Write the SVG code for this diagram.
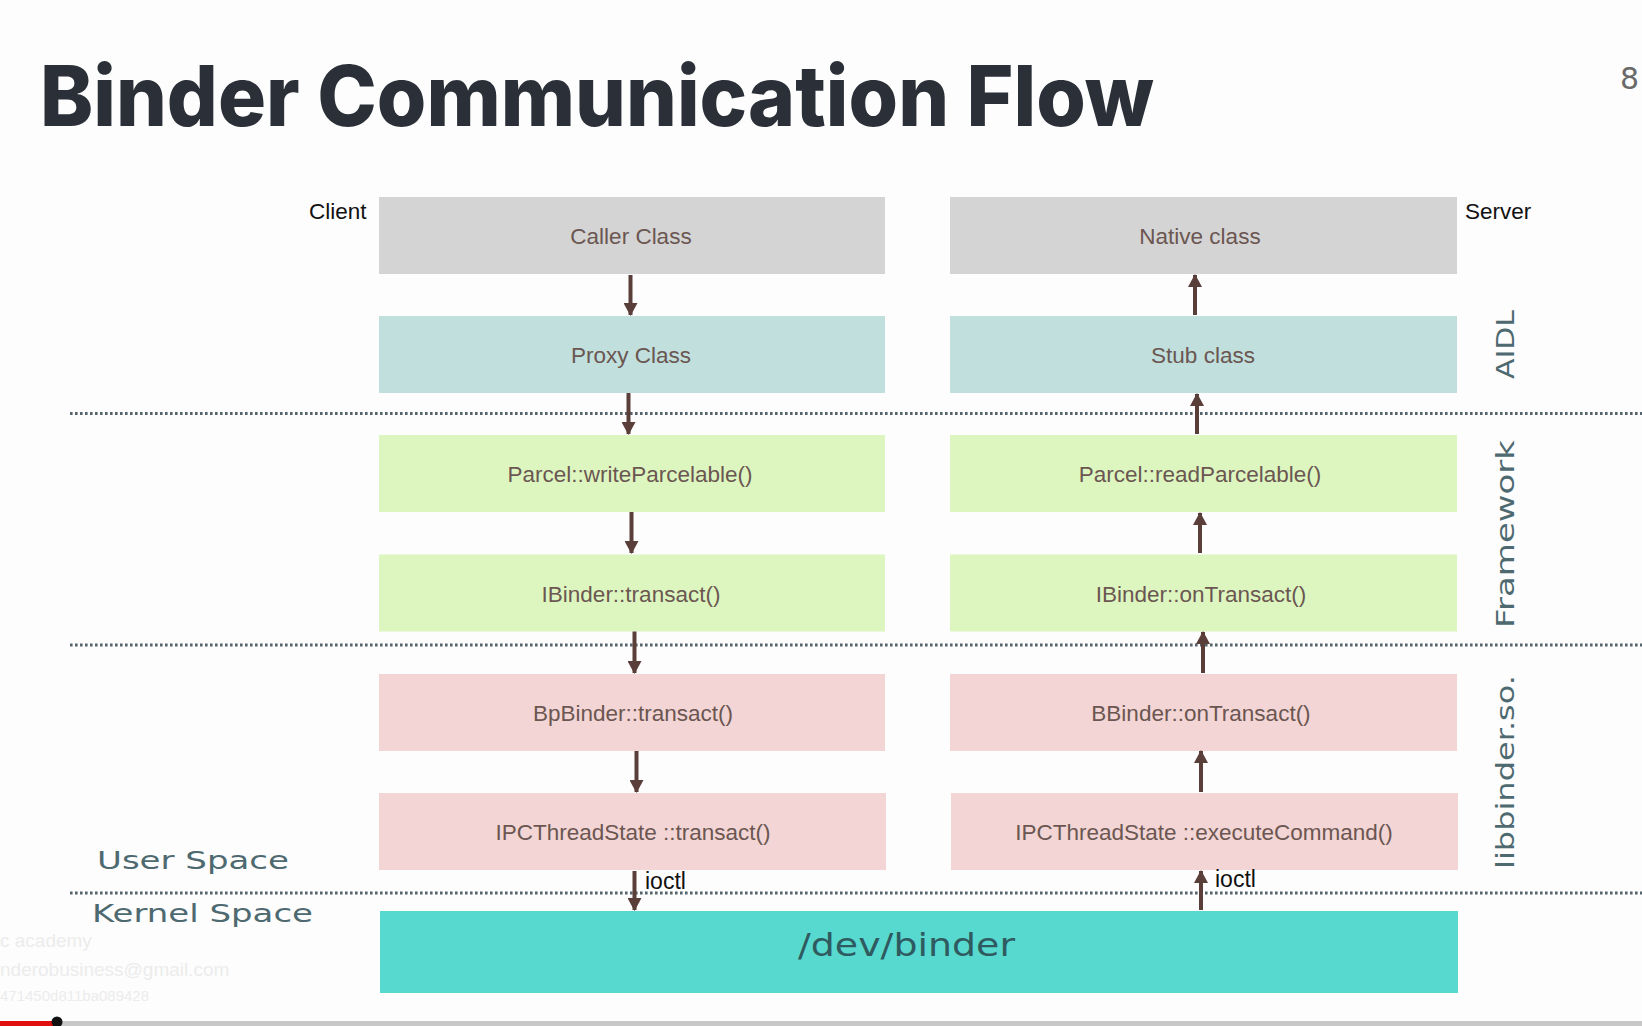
<svg xmlns="http://www.w3.org/2000/svg" width="1642" height="1026" viewBox="0 0 1642 1026">
  <style>
    .bg { fill: #fdfdfd; }
    .title { font-family: Inter, "Liberation Sans", sans-serif; font-weight: 800; font-size: 84px; fill: #2b3038; }
    .side { font-family: "Liberation Sans", Arial, sans-serif; font-size: 22.5px; fill: #111; }
    .box text { font-family: "Liberation Sans", Arial, sans-serif; font-size: 22.5px; fill: #6b5651; text-anchor: middle; }
    .box text.dev { font-family: "DejaVu Sans", sans-serif; font-size: 32px; fill: #2f5b60; text-anchor: start; }
    .grey { fill: #d4d4d4; }
    .aidl { fill: #c0dfdd; }
    .fw { fill: #ddf6c0; }
    .lib { fill: #f2d5d4; }
    .kern { fill: #58d9cf; }
    .layer { font-family: "DejaVu Sans", sans-serif; font-size: 25px; fill: #4e6a70; }
    .sep { stroke: #55656b; stroke-width: 3; stroke-dasharray: 2.6 2.4; fill: none; }
    .conn line { stroke: #5a3e39; stroke-width: 4; marker-end: url(#head); }
    .mark { font-family: "Liberation Sans", Arial, sans-serif; font-size: 23px; fill: #111; }
    .wm { font-family: "Liberation Sans", Arial, sans-serif; font-size: 19px; fill: #ececec; }
    .wm.small { font-size: 15px; }
    .pageno { font-family: "DejaVu Sans", sans-serif; font-size: 30px; fill: #6a6a6a; }
  </style>
  <defs>
    <marker id="head" markerUnits="userSpaceOnUse" markerWidth="16" markerHeight="14" refX="12" refY="7" orient="auto">
      <path d="M0,0 L13,7 L0,14 Z" fill="#5a3e39"/>
    </marker>
  </defs>

  <rect class="bg" x="0" y="0" width="1642" height="1026"/>

  <!-- heading and slide number -->
  <text class="title" x="40" y="126" textLength="1114" lengthAdjust="spacingAndGlyphs">Binder Communication Flow</text>
  <text class="pageno" x="1620" y="89">8</text>

  <!-- side captions -->
  <text class="side" x="309" y="219">Client</text>
  <text class="side" x="1465" y="219">Server</text>

  <!-- layer separators -->
  <g id="separators">
    <line class="sep" x1="70" y1="413.5" x2="1642" y2="413.5"/>
    <line class="sep" x1="70" y1="645" x2="1642" y2="645"/>
    <line class="sep" x1="70" y1="893" x2="1642" y2="893"/>
  </g>

  <!-- layer names -->
  <text class="layer" transform="translate(1514,344.5) rotate(-90)" text-anchor="middle" textLength="69" lengthAdjust="spacingAndGlyphs">AIDL</text>
  <text class="layer" transform="translate(1514,534) rotate(-90)" text-anchor="middle" textLength="188" lengthAdjust="spacingAndGlyphs">Framework</text>
  <text class="layer" transform="translate(1514,772) rotate(-90)" text-anchor="middle" textLength="194" lengthAdjust="spacingAndGlyphs">libbinder.so.</text>
  <text class="layer" x="97" y="869" textLength="192" lengthAdjust="spacingAndGlyphs">User Space</text>
  <text class="layer" x="92" y="922" textLength="221" lengthAdjust="spacingAndGlyphs">Kernel Space</text>

  <!-- client column -->
  <g id="caller" class="box"><rect class="grey" x="379" y="197" width="506" height="77"/><text x="631" y="244">Caller Class</text></g>
  <g id="proxy" class="box"><rect class="aidl" x="379" y="316" width="506" height="77"/><text x="631" y="363">Proxy Class</text></g>
  <g id="write-parcel" class="box"><rect class="fw" x="379" y="435" width="506" height="77"/><text x="630" y="482">Parcel::writeParcelable()</text></g>
  <g id="ibinder-transact" class="box"><rect class="fw" x="379" y="554.5" width="506" height="77"/><text x="631" y="601.5">IBinder::transact()</text></g>
  <g id="bpbinder" class="box"><rect class="lib" x="379" y="674" width="506" height="77"/><text x="633" y="721">BpBinder::transact()</text></g>
  <g id="ipc-transact" class="box"><rect class="lib" x="379" y="793" width="507" height="77"/><text x="633" y="840">IPCThreadState ::transact()</text></g>

  <!-- server column -->
  <g id="native" class="box"><rect class="grey" x="950" y="197" width="507" height="77"/><text x="1200" y="244">Native class</text></g>
  <g id="stub" class="box"><rect class="aidl" x="950" y="316" width="507" height="77"/><text x="1203" y="363">Stub class</text></g>
  <g id="read-parcel" class="box"><rect class="fw" x="950" y="435" width="507" height="77"/><text x="1200" y="482">Parcel::readParcelable()</text></g>
  <g id="ibinder-ontransact" class="box"><rect class="fw" x="950" y="554.5" width="507" height="77"/><text x="1201" y="601.5">IBinder::onTransact()</text></g>
  <g id="bbinder" class="box"><rect class="lib" x="950" y="674" width="507" height="77"/><text x="1201" y="721">BBinder::onTransact()</text></g>
  <g id="ipc-execute" class="box"><rect class="lib" x="951" y="793" width="507" height="77"/><text x="1204" y="840">IPCThreadState ::executeCommand()</text></g>

  <!-- kernel driver -->
  <g id="dev-binder" class="box">
    <rect class="kern" x="380" y="911" width="1078" height="82"/>
    <text class="dev" x="798" y="956" textLength="217" lengthAdjust="spacingAndGlyphs">/dev/binder</text>
  </g>

  <!-- call flow -->
  <g id="connectors" class="conn">
    <line x1="630.5" y1="275" x2="630.5" y2="315"/>
    <line x1="628.5" y1="393" x2="628.5" y2="434"/>
    <line x1="631.5" y1="512" x2="631.5" y2="553"/>
    <line x1="634.5" y1="631.5" x2="634.5" y2="673"/>
    <line x1="636.5" y1="751" x2="636.5" y2="792"/>
    <line x1="634.5" y1="871" x2="634.5" y2="910"/>

    <line x1="1195" y1="315" x2="1195" y2="275"/>
    <line x1="1197" y1="434" x2="1197" y2="394"/>
    <line x1="1200" y1="553" x2="1200" y2="513"/>
    <line x1="1203" y1="673" x2="1203" y2="632"/>
    <line x1="1201" y1="792" x2="1201" y2="751"/>
    <line x1="1201" y1="910" x2="1201" y2="871"/>
  </g>
  <text class="mark" x="645" y="889">ioctl</text>
  <text class="mark" x="1215" y="887">ioctl</text>

  <!-- faint overlay lines, lower left -->
  <text class="wm" x="0" y="947">c academy</text>
  <text class="wm" x="0" y="976">nderobusiness@gmail.com</text>
  <text class="wm small" x="0" y="1001">471450d811ba089428</text>

  <!-- progress bar -->
  <rect x="0" y="1021" width="1642" height="5" fill="#c8c8c8"/>
  <rect x="0" y="1021" width="57" height="5" fill="#e01010"/>
  <circle cx="57" cy="1022" r="5.5" fill="#111"/>
</svg>
